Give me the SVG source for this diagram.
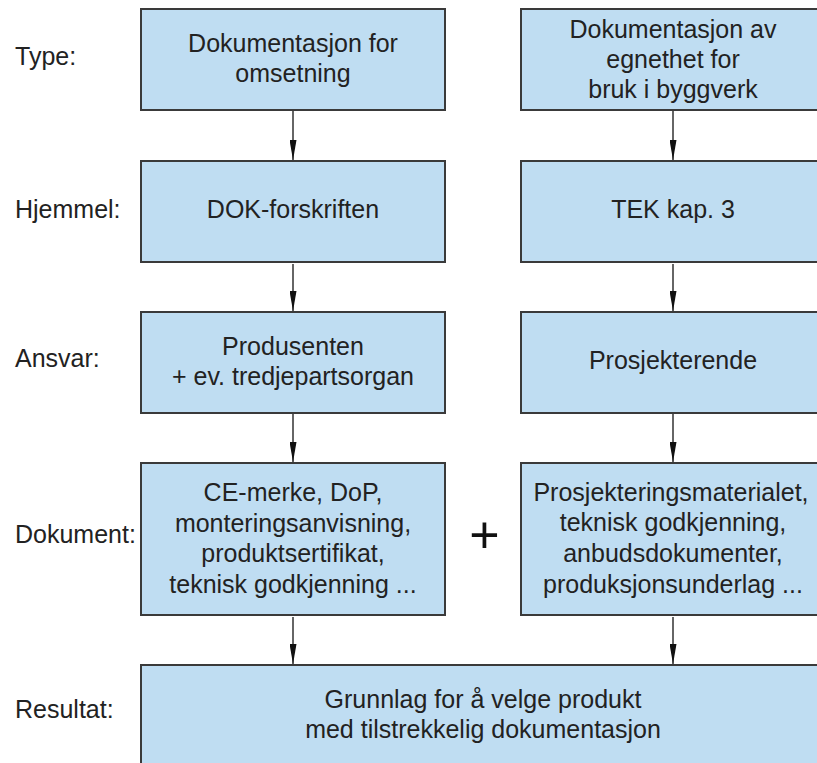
<svg xmlns="http://www.w3.org/2000/svg" width="817" height="763" viewBox="0 0 817 763">
<style>
.box{fill:#bfddf2;stroke:#3a3a3a;stroke-width:2}
.t{font-family:"Liberation Sans",Arial,sans-serif;font-size:25px;fill:#222;text-anchor:middle}
.lbl{font-family:"Liberation Sans",Arial,sans-serif;font-size:25px;fill:#222}
.c{stroke:#333;stroke-width:1.5;fill:none;marker-end:url(#ah)}
</style>
<defs>
<marker id="ah" markerUnits="userSpaceOnUse" markerWidth="20" markerHeight="7" refX="20" refY="3.5" orient="auto" viewBox="0 0 20 7">
<path d="M0,0 L20,3.5 L0,7 Z" fill="#111"/>
</marker>
</defs>
<rect width="817" height="763" fill="#fff"/>
<g id="labels">
<text class="lbl" x="15" y="65">Type:</text>
<text class="lbl" x="15" y="218">Hjemmel:</text>
<text class="lbl" x="15" y="367">Ansvar:</text>
<text class="lbl" x="15" y="543">Dokument:</text>
<text class="lbl" x="15" y="718">Resultat:</text>
</g>
<g id="connectors">
<line class="c" x1="293" y1="111" x2="293" y2="160"/>
<line class="c" x1="673" y1="111" x2="673" y2="160"/>
<line class="c" x1="293" y1="264" x2="293" y2="311"/>
<line class="c" x1="673" y1="264" x2="673" y2="311"/>
<line class="c" x1="293" y1="414" x2="293" y2="462"/>
<line class="c" x1="673" y1="414" x2="673" y2="462"/>
<line class="c" x1="293" y1="617" x2="293" y2="664"/>
<line class="c" x1="673" y1="617" x2="673" y2="664"/>
</g>
<g id="type-left">
<rect class="box" x="141" y="9" width="304" height="101"/>
<text class="t" x="293" y="52">Dokumentasjon for</text>
<text class="t" x="293" y="81.5">omsetning</text>
</g>
<g id="type-right">
<rect class="box" x="521" y="9" width="304" height="101"/>
<text class="t" x="673" y="38">Dokumentasjon av</text>
<text class="t" x="673" y="68">egnethet for</text>
<text class="t" x="673" y="98">bruk i byggverk</text>
</g>
<g id="hjemmel-left">
<rect class="box" x="141" y="161" width="304" height="101"/>
<text class="t" x="293" y="218">DOK-forskriften</text>
</g>
<g id="hjemmel-right">
<rect class="box" x="521" y="161" width="304" height="101"/>
<text class="t" x="673" y="218">TEK kap. 3</text>
</g>
<g id="ansvar-left">
<rect class="box" x="141" y="312" width="304" height="101"/>
<text class="t" x="293" y="355">Produsenten</text>
<text class="t" x="293" y="385">+ ev. tredjepartsorgan</text>
</g>
<g id="ansvar-right">
<rect class="box" x="521" y="312" width="304" height="101"/>
<text class="t" x="673" y="369">Prosjekterende</text>
</g>
<g id="dokument-left">
<rect class="box" x="141" y="463" width="304" height="152"/>
<text class="t" x="293" y="501">CE-merke, DoP,</text>
<text class="t" x="293" y="531.5">monteringsanvisning,</text>
<text class="t" x="293" y="562">produktsertifikat,</text>
<text class="t" x="293" y="592.5">teknisk godkjenning ...</text>
</g>
<g id="plus">
<text x="484.5" y="553" font-family="'Liberation Sans',Arial,sans-serif" font-size="52" fill="#111" text-anchor="middle">+</text>
</g>
<g id="dokument-right">
<rect class="box" x="521" y="463" width="304" height="152"/>
<text class="t" x="671" y="500.5">Prosjekteringsmaterialet,</text>
<text class="t" x="673" y="531">teknisk godkjenning,</text>
<text class="t" x="673" y="562">anbudsdokumenter,</text>
<text class="t" x="673" y="593">produksjonsunderlag ...</text>
</g>
<g id="resultat">
<rect class="box" x="141" y="665" width="684" height="110"/>
<text class="t" x="483" y="708">Grunnlag for å velge produkt</text>
<text class="t" x="483" y="738">med tilstrekkelig dokumentasjon</text>
</g>
</svg>
